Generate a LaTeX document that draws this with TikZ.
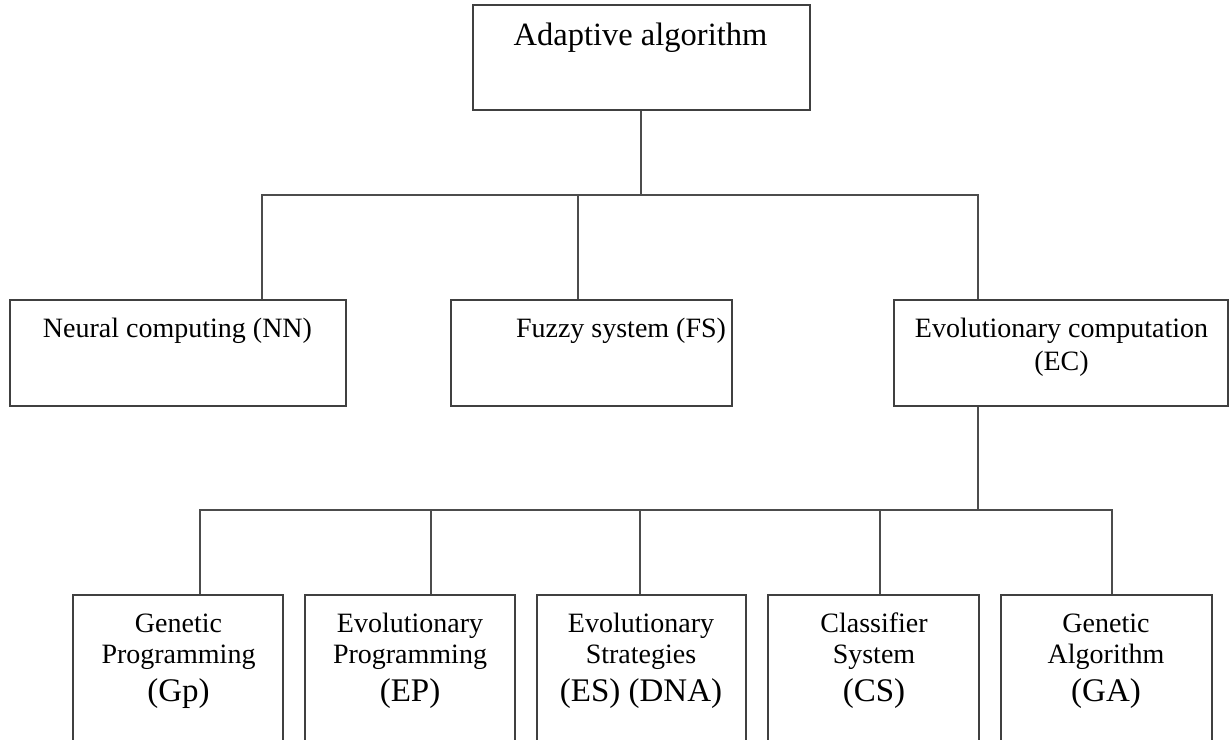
\documentclass[tikz,border=0pt]{standalone}
\usepackage{fontspec}
\setmainfont{Liberation Serif}
\begin{document}
\begin{tikzpicture}[x=1pt,y=-1pt,
  box/.style={draw=black!75,line width=1.5pt,rectangle,inner sep=0pt,fill=none},
  conn/.style={draw=black!70,line width=1.6pt},
  big/.style={font=\fontsize{32.5}{38}\selectfont,anchor=base,inner sep=0pt,text=black},
  lbl/.style={font=\fontsize{28}{33}\selectfont,anchor=base,inner sep=0pt,text=black},
  lblb/.style={font=\fontsize{33}{39}\selectfont,anchor=base,inner sep=0pt,text=black}]
\useasboundingbox (0,0) rectangle (1230,739);
\clip (0,0) rectangle (1230,739);
% boxes
\node[box,minimum width=337pt,minimum height=105pt] (top) at (641.5,57.5) {};
\node[box,minimum width=336pt,minimum height=106pt] (nn) at (178,353) {};
\node[box,minimum width=281pt,minimum height=106pt] (fs) at (591.5,353) {};
\node[box,minimum width=334pt,minimum height=106pt] (ec) at (1061,353) {};
\node[box,minimum width=210pt,minimum height=210pt] (gp) at (178,700) {};
\node[box,minimum width=210pt,minimum height=210pt] (ep) at (410,700) {};
\node[box,minimum width=209pt,minimum height=210pt] (es) at (641.5,700) {};
\node[box,minimum width=211pt,minimum height=210pt] (cs) at (873.5,700) {};
\node[box,minimum width=211pt,minimum height=210pt] (ga) at (1106.5,700) {};
% texts
\node[big] (ttop) at (640.5,45) {Adaptive algorithm};
\node[lbl] (tnn) at (177.5,337) {Neural computing (NN)};
\node[lbl] (tfs) at (621,337) {Fuzzy system (FS)};
\node[lbl] (tec1) at (1061.5,337) {Evolutionary computation};
\node[lbl] (tec2) at (1061.5,370) {(EC)};
\node[lbl] (tgp1) at (178.5,632) {Genetic};
\node[lbl] (tgp2) at (178.5,663) {Programming};
\node[lblb] (tgp3) at (178.5,701) {(Gp)};
\node[lbl] (tep1) at (410,632) {Evolutionary};
\node[lbl] (tep2) at (410,663) {Programming};
\node[lblb] (tep3) at (410,701) {(EP)};
\node[lbl] (tes1) at (641,632) {Evolutionary};
\node[lbl] (tes2) at (641,663) {Strategies};
\node[lblb] (tes3) at (641,701) {(ES) (DNA)};
\node[lbl] (tcs1) at (874,632) {Classifier};
\node[lbl] (tcs2) at (874,663) {System};
\node[lblb] (tcs3) at (874,701) {(CS)};
\node[lbl] (tga1) at (1106,632) {Genetic};
\node[lbl] (tga2) at (1106,663) {Algorithm};
\node[lblb] (tga3) at (1106,701) {(GA)};
% connector coordinates
\coordinate (ja) at (641,195);
\coordinate (h1l) at (262,195);
\coordinate (h1m) at (578,195);
\coordinate (h1r) at (978,195);
\coordinate (jb) at (978,510);
\coordinate (h2a) at (200,510);
\coordinate (h2b) at (431,510);
\coordinate (h2c) at (640,510);
\coordinate (h2d) at (880,510);
\coordinate (h2e) at (1112,510);
% connectors
\draw[conn] (top.south -| ja) -- (ja);
\draw[conn] (h1l |- nn.north) -- (h1l) -- (h1r) -- (h1r |- ec.north);
\draw[conn] (h1m) -- (h1m |- fs.north);
\draw[conn] (ec.south -| jb) -- (jb);
\draw[conn] (h2a |- gp.north) -- (h2a) -- (h2e) -- (h2e |- ga.north);
\draw[conn] (h2b) -- (h2b |- ep.north);
\draw[conn] (h2c) -- (h2c |- es.north);
\draw[conn] (h2d) -- (h2d |- cs.north);
\end{tikzpicture}
\end{document}
